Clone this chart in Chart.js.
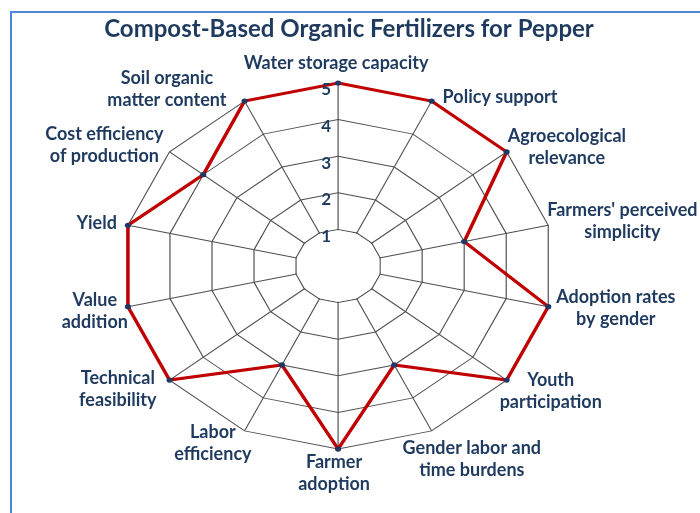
<!DOCTYPE html>
<html>
<head>
<meta charset="utf-8">
<title>Compost-Based Organic Fertilizers for Pepper</title>
<script src="https://cdn.jsdelivr.net/npm/chart.js@4.4.1/dist/chart.umd.min.js"></script>
<style>
  html, body { margin: 0; padding: 0; background: #fff; overflow: hidden; }
  #wrap { position: relative; width: 700px; height: 513px; overflow: hidden; }
  #marco { position: absolute; left: 10px; top: 11px; width: 760px; height: 560px; border: 2px solid #5084d6; }
  #chart-radar { position: absolute; left: 0; top: 0; }
</style>
</head>
<body>
<div id="wrap">
  <div id="marco"></div>
  <canvas id="chart-radar" width="700" height="513"></canvas>
</div>
<script>
// ============================================================
// DATOS DEL GRÁFICO
// ============================================================

const titulo = 'Compost-Based Organic Fertilizers for Pepper';

// Categorías (una línea por elemento del arreglo interno)
const categorias = [
  ['Water storage capacity'],
  ['Policy support'],
  ['Agroecological', 'relevance'],
  ["Farmers' perceived", 'simplicity'],
  ['Adoption rates', 'by gender'],
  ['Youth', 'participation'],
  ['Gender labor and', 'time burdens'],
  ['Farmer', 'adoption'],
  ['Labor', 'efficiency'],
  ['Technical', 'feasibility'],
  ['Value', 'addition'],
  ['Yield'],
  ['Cost efficiency', 'of production'],
  ['Soil organic', 'matter content']
];

const puntajes = [5, 5, 5, 3, 5, 5, 3, 5, 3, 5, 5, 5, 4, 5];

const ticksEscala = [1, 2, 3, 4, 5];

// ============================================================
// ESTILO
// ============================================================

const ESTIRAMIENTO = 1.178;   // la figura original está estirada en horizontal
const COLOR_TEXTO = '#1f3a5f';
const FUENTE = 'Lato, "Open Sans", sans-serif';
const ALTO_LINEA = 22;

// Ajuste fino (px) de cada etiqueta respecto a la regla general
const ajusteEtiquetas = [
  [-2, -6], [6, 7], [-4, 5], [-6, -3], [3, 0], [-12, 1], [-34, 8],
  [-4, -1], [12, -8], [-8, -1], [5, 3], [-6, -1], [-1, 3], [-13, 8]
];

/**
 * Plugin que estira el radar en horizontal, tapa el centro
 * (dentro del anillo 1) y dibuja los textos sin deformarlos.
 */
const pluginRadarElipse = {
  id: 'radarElipse',
  beforeDraw(chart) {
    chart.ctx.save();
    chart.ctx.scale(ESTIRAMIENTO, 1);
  },
  beforeDatasetsDraw(chart) {
    const escala = chart.scales.r;
    const ctx = chart.ctx;
    const d = escala.getDistanceFromCenterForValue(ticksEscala[0]) - 0.8;
    ctx.save();
    ctx.beginPath();
    categorias.forEach((_, i) => {
      const p = escala.getPointPosition(i, d);
      if (i === 0) ctx.moveTo(p.x, p.y); else ctx.lineTo(p.x, p.y);
    });
    ctx.closePath();
    ctx.fillStyle = '#ffffff';
    ctx.fill();
    ctx.restore();
  },
  afterDraw(chart) {
    const ctx = chart.ctx;
    ctx.restore();
    const escala = chart.scales.r;
    const n = categorias.length;

    ctx.save();
    ctx.fillStyle = COLOR_TEXTO;

    // Título
    ctx.font = `700 24px ${FUENTE}`;
    ctx.textAlign = 'center';
    ctx.textBaseline = 'alphabetic';
    ctx.fillText(titulo, chart.width / 2 - 1, 37);

    // Etiquetas de la escala, a la izquierda del eje superior
    ctx.font = `700 17px ${FUENTE}`;
    ctx.textAlign = 'right';
    ctx.textBaseline = 'middle';
    ticksEscala.forEach(v => {
      const p = escala.getPointPositionForValue(0, v);
      ctx.fillText(String(v), p.x * ESTIRAMIENTO - 7, p.y + 7);
    });

    // Etiquetas de las categorías
    ctx.font = `700 18px ${FUENTE}`;
    ctx.textAlign = 'center';
    categorias.forEach((lineas, i) => {
      const v = escala.getPointPosition(i, escala.drawingArea);
      const vx = v.x * ESTIRAMIENTO;
      const ang = i * 2 * Math.PI / n;
      const s = Math.sin(ang);
      const c = Math.cos(ang);
      const ancho = Math.max(...lineas.map(t => ctx.measureText(t).width));
      const alto = lineas.length * ALTO_LINEA;
      const [dx, dy] = ajusteEtiquetas[i];
      const cx = vx + (Math.abs(s) < 0.1 ? 0 : Math.sign(s) * (ancho / 2 + 5)) + dx;
      const cy = v.y - c * Math.abs(c) * (alto / 2 + 3) + dy;
      lineas.forEach((t, j) => {
        ctx.fillText(t, cx, cy - alto / 2 + ALTO_LINEA * (j + 0.5));
      });
    });
    ctx.restore();
  }
};

// ============================================================
// GRÁFICA
// ============================================================

const canvas = document.getElementById('chart-radar');

new Chart(canvas, {
  type: 'radar',
  data: {
    labels: categorias,
    datasets: [{
      label: titulo,
      data: puntajes,
      borderColor: '#c00000',
      borderWidth: 3,
      fill: false,
      clip: false,
      pointRadius: 2.6,
      pointBorderWidth: 0,
      pointBackgroundColor: '#1f3864'
    }]
  },
  options: {
    responsive: false,
    animation: false,
    devicePixelRatio: 1,
    layout: { padding: { left: 104, right: 230, top: 83, bottom: 64 } },
    plugins: {
      legend: { display: false },
      title: { display: false },
      tooltip: { enabled: false }
    },
    scales: {
      r: {
        min: 0,
        max: 5,
        beginAtZero: true,
        ticks: { display: false, stepSize: 1 },
        pointLabels: { display: false },
        grid: { color: '#505050', lineWidth: 1 },
        angleLines: { color: '#505050', lineWidth: 1 }
      }
    }
  },
  plugins: [pluginRadarElipse]
});
</script>
</body>
</html>
